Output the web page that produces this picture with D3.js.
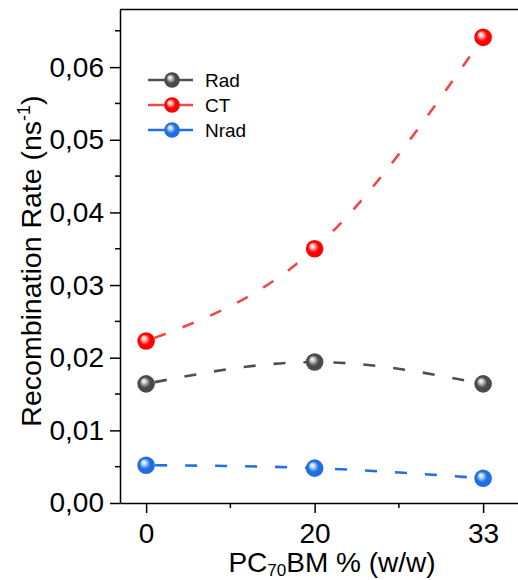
<!DOCTYPE html>
<html>
<head>
<meta charset="utf-8">
<script src="https://cdn.jsdelivr.net/npm/d3@7"></script>
<style>
  body { margin: 0; background: #fff; }
  text { font-family: "Liberation Sans", Arial, sans-serif; fill: #000; }
</style>
</head>
<body>
<div id="chart"></div>
<script>
// data
var categories = ["0", "20", "33"];
var radValues = [0.0164, 0.0194, 0.0164];
var ctValues = [0.0223, 0.0350, 0.0641];
var nradValues = [0.0052, 0.0048, 0.0034];
var yTicks = [0, 0.01, 0.02, 0.03, 0.04, 0.05, 0.06];

var series = [
  {name: "Rad", values: radValues, line: "#4f4f4f", ball: "#4a4a4a", light: "#d8d8d8"},
  {name: "CT", values: ctValues, line: "#f04646", ball: "#ff0000", light: "#ffd0d0"},
  {name: "Nrad", values: nradValues, line: "#2271e0", ball: "#1f6fe0", light: "#cfe2ff"}
];

var margin = {top: 9, right: 0, bottom: 77, left: 120};
var width = 518 - margin.left - margin.right;
var height = 580 - margin.top - margin.bottom;

var x = d3.scaleLinear().domain([-0.155, 2.207]).range([0, width]);
var y = d3.scaleLinear().domain([0, 0.068]).range([height, 0]);
var fmt = function(d) { return d3.format(".2f")(d).replace(".", ","); };

var svg = d3.select("#chart").append("svg")
    .attr("width", 518)
    .attr("height", 580);

var defs = svg.append("defs");
series.forEach(function(s, i) {
  var g = defs.append("radialGradient")
      .attr("id", "ball" + i)
      .attr("cx", "50%").attr("cy", "50%").attr("r", "55%")
      .attr("fx", "35%").attr("fy", "32%");
  g.append("stop").attr("offset", "0%").attr("stop-color", "#ffffff");
  g.append("stop").attr("offset", "18%").attr("stop-color", s.light);
  g.append("stop").attr("offset", "55%").attr("stop-color", s.ball);
  g.append("stop").attr("offset", "100%").attr("stop-color", s.ball);
});

var g = svg.append("g")
    .attr("transform", "translate(" + margin.left + "," + margin.top + ")");

// frame: top line, left axis, bottom axis
g.append("line").attr("x1", 0).attr("x2", width).attr("y1", 0.5).attr("y2", 0.5)
    .attr("stroke", "#000").attr("stroke-width", 1.5);

var yAxis = g.append("g")
    .call(d3.axisLeft(y).tickValues(yTicks).tickFormat(fmt).tickSize(10).tickSizeOuter(0));
yAxis.select(".domain").attr("stroke-width", 1.5);
yAxis.selectAll(".tick line").attr("stroke-width", 1.5);
yAxis.selectAll(".tick text").attr("font-size", 28).attr("x", -16)
    .style("font-family", "Liberation Sans, Arial, sans-serif");

var yMinor = d3.range(0.005, 0.068, 0.01);
g.append("g").selectAll("line").data(yMinor).enter().append("line")
    .attr("x1", -5).attr("x2", 0)
    .attr("y1", function(d) { return y(d); }).attr("y2", function(d) { return y(d); })
    .attr("stroke", "#000").attr("stroke-width", 1.5);

var xAxis = g.append("g")
    .attr("transform", "translate(0," + height + ")")
    .call(d3.axisBottom(x).tickValues([0, 1, 2])
        .tickFormat(function(d) { return categories[d]; }).tickSize(10).tickSizeOuter(0));
xAxis.select(".domain").attr("stroke-width", 1.5);
xAxis.selectAll(".tick line").attr("stroke-width", 1.5);
xAxis.selectAll(".tick text").attr("font-size", 28).attr("y", 20)
    .style("font-family", "Liberation Sans, Arial, sans-serif");

g.append("g").selectAll("line").data([0.5, 1.5]).enter().append("line")
    .attr("x1", function(d) { return x(d); }).attr("x2", function(d) { return x(d); })
    .attr("y1", height).attr("y2", height + 5)
    .attr("stroke", "#000").attr("stroke-width", 1.5);

// axis titles
var xt = svg.append("text")
    .attr("x", 332).attr("y", 572)
    .attr("text-anchor", "middle")
    .attr("font-size", 28);
xt.append("tspan").text("PC");
xt.append("tspan").attr("font-size", 17).attr("dy", 4).text("70");
xt.append("tspan").attr("dy", -4).text("BM % (w/w)");

var yt = svg.append("text")
    .attr("transform", "translate(41,261) rotate(-90)")
    .attr("text-anchor", "middle")
    .attr("font-size", 28.5);
yt.append("tspan").text("Recombination Rate (ns");
yt.append("tspan").attr("font-size", 18).attr("dy", -11).text("-1");
yt.append("tspan").attr("dy", 11).text(")");

// curves
var line = d3.line()
    .x(function(d, i) { return x(i); })
    .y(function(d) { return y(d); })
    .curve(d3.curveNatural);

series.forEach(function(s, i) {
  g.append("path")
      .attr("d", line(s.values))
      .attr("fill", "none")
      .attr("stroke", s.line)
      .attr("stroke-width", 2.6)
      .attr("stroke-dasharray", "12,18")
      .attr("stroke-dashoffset", -9);
});

series.forEach(function(s, i) {
  g.append("g").selectAll("circle").data(s.values).enter().append("circle")
      .attr("cx", function(d, j) { return x(j); })
      .attr("cy", function(d) { return y(d); })
      .attr("r", 8.8)
      .attr("fill", "url(#ball" + i + ")");
});

// legend
var legend = svg.append("g").attr("transform", "translate(148,80)");
series.forEach(function(s, i) {
  var row = legend.append("g").attr("transform", "translate(0," + (i * 25) + ")");
  row.append("line").attr("x1", 0).attr("x2", 45).attr("y1", 0).attr("y2", 0)
      .attr("stroke", s.line).attr("stroke-width", 2.6);
  row.append("circle").attr("cx", 24).attr("cy", 0).attr("r", 7.8)
      .attr("fill", "url(#ball" + i + ")");
  row.append("text").attr("x", 57).attr("y", 0).attr("dy", "0.36em")
      .attr("font-size", 19).text(s.name);
});
</script>
</body>
</html>
